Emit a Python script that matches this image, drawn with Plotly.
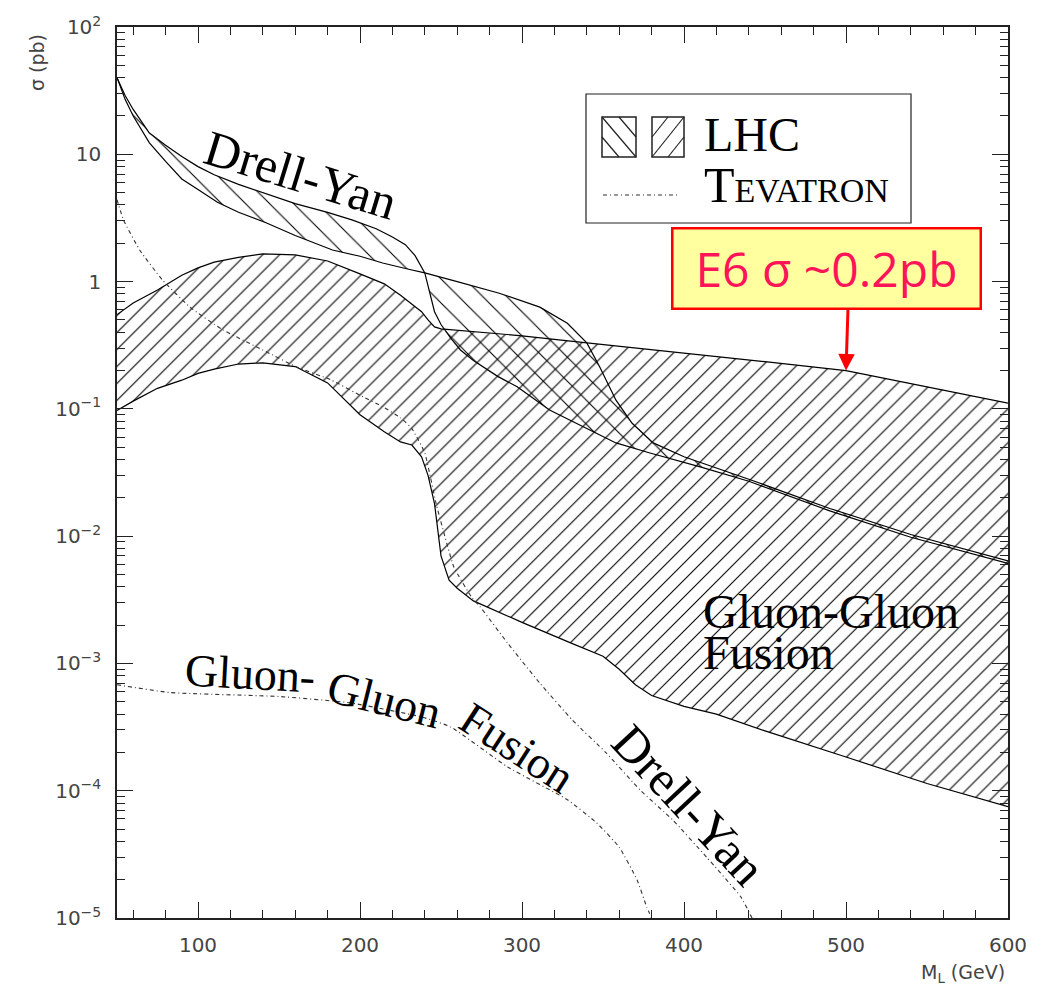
import numpy as np
import plotly.graph_objects as go

# ---------------- data ----------------
# LHC Drell-Yan band: edge A (upper edge below the ~240 GeV crossing) and edge B
dy_a_mass = [50, 55, 60, 70, 80, 90, 100, 110, 125, 140, 160, 180, 195, 210, 220, 228, 234, 240,
             243, 246, 250, 256, 262, 270, 285, 297, 317, 338, 358, 379, 410, 440, 490, 540, 600]
dy_a_sigma = [40, 29, 22.5, 14.7, 11.8, 9.6, 8.0, 6.9, 5.8, 5.0, 4.1, 3.5, 3.05, 2.6, 2.24, 1.95, 1.6, 1.17,
              0.80, 0.58, 0.46, 0.36, 0.29, 0.24, 0.18, 0.149, 0.098, 0.072, 0.054, 0.045, 0.035, 0.027,
              0.0158, 0.0098, 0.0061]
dy_b_mass = [50, 55, 60, 70, 80, 90, 100, 112, 125, 142, 160, 183, 200, 214, 230, 240,
             260, 286, 311, 328, 340, 348, 358, 368, 381, 400, 440, 490, 540, 600]
dy_b_sigma = [40, 27, 20, 12.3, 8.8, 6.4, 5.3, 4.2, 3.5, 2.9, 2.3, 1.77, 1.58, 1.40, 1.25, 1.17,
              1.0, 0.81, 0.63, 0.47, 0.33, 0.213, 0.117, 0.077, 0.054, 0.042, 0.028, 0.0165, 0.0103, 0.0064]

# LHC gluon-gluon fusion band (upper / lower edge on a common mass grid)
gg_mass = [50, 60, 75, 90, 100, 110, 125, 140, 160, 180, 200, 215, 225, 232, 238, 242, 246, 250, 255,
           260, 270, 300, 330, 350, 360, 370, 380, 400, 420, 450, 500, 550, 600]
gg_upper = [0.55, 0.68, 0.86, 1.12, 1.28, 1.42, 1.55, 1.65, 1.62, 1.45, 1.15, 0.96, 0.78, 0.66, 0.58,
            0.50, 0.44, 0.425, 0.42, 0.41, 0.40, 0.375, 0.34, 0.32, 0.31, 0.30, 0.29, 0.272, 0.258,
            0.235, 0.20, 0.15, 0.111]
gg_lower = [0.097, 0.115, 0.145, 0.168, 0.19, 0.205, 0.225, 0.23, 0.215, 0.16, 0.09, 0.066, 0.055,
            0.052, 0.042, 0.030, 0.018, 0.0070, 0.0045, 0.0039, 0.0031, 0.0021, 0.00145, 0.00114,
            0.00090, 0.00068, 0.00056, 0.00046, 0.00040, 0.000295, 0.000184, 0.000114, 0.000075]

# Tevatron curves
tev_dy_mass = [50, 54, 64, 78, 95, 115, 140, 161, 182, 202, 214, 225, 232, 240, 247, 258, 269, 274,
               291, 311, 331, 352, 373, 393, 414, 435, 442]
tev_dy_sigma = [4.4, 3.05, 1.77, 1.03, 0.63, 0.42, 0.29, 0.213, 0.169, 0.124, 0.104, 0.085, 0.070,
                0.045, 0.018, 0.0057, 0.0033, 0.0028, 0.00145, 0.0007, 0.00036, 0.000198, 0.000101,
                0.000059, 0.00003, 0.0000147, 0.00001]
tev_gg_mass = [50, 83, 150, 194, 238, 256, 291, 328, 346, 360, 371, 377, 380]
tev_gg_sigma = [6.8e-4, 5.9e-4, 5.5e-4, 4.9e-4, 3.8e-4, 3.17e-4, 1.54e-4, 8.5e-5, 5.6e-5, 3.6e-5,
                2.0e-5, 1.22e-5, 1.0e-5]

# hatch settings
dy_split_mass = 240
dy_pattern_size = 17
gg_pattern_size = 12

# E6 callout
e6_mass = 500
e6_sigma = 0.2
e6_text = "E6 σ ~0.2pb"

# axis ticks
x_tick_vals = [100, 200, 300, 400, 500, 600]
y_tick_vals = [1e-5, 1e-4, 1e-3, 1e-2, 1e-1, 1, 10, 100]
y_tick_text = ["10<sup>−5</sup>", "10<sup>−4</sup>", "10<sup>−3</sup>", "10<sup>−2</sup>",
               "10<sup>−1</sup>", "1", "10", "10<sup>2</sup>"]
y_minor_vals = [k * 10.0 ** d for d in range(-5, 2) for k in range(2, 10)]

# ---------------- layout geometry (page has an 8px body margin) ----------------
OFF = 8
W, H = 1028, 977
PLOT_L, PLOT_T, PLOT_W, PLOT_H = 117, 27, 891, 891      # screen pixels of the plot area
ML = PLOT_L - OFF
MT = PLOT_T - OFF
MR = W - ML - PLOT_W
MB = H - MT - PLOT_H


def px(x):
    return (x - PLOT_L) / PLOT_W


def py(y):
    return (PLOT_T + PLOT_H - y) / PLOT_H


fig = go.Figure()


def hatch(xs, ys, shape, size):
    fig.add_trace(go.Scatter(
        x=list(xs), y=list(ys), mode="none", fill="toself", fillcolor="rgba(0,0,0,0)",
        fillpattern=dict(shape=shape, size=size, solidity=min(1.0, 1.1 / size), fgcolor="black",
                         bgcolor="rgba(0,0,0,0)", fillmode="replace"),
        hoverinfo="skip", showlegend=False))


# Drell-Yan band (two lobes around the crossing)
a_m = np.array(dy_a_mass); a_s = np.array(dy_a_sigma)
b_m = np.array(dy_b_mass); b_s = np.array(dy_b_sigma)
for ma, mb in [(a_m <= dy_split_mass, b_m <= dy_split_mass),
               (a_m >= dy_split_mass, b_m >= dy_split_mass)]:
    xs = list(a_m[ma]) + list(b_m[mb][::-1])
    ys = list(a_s[ma]) + list(b_s[mb][::-1])
    hatch(xs, ys, "\\", dy_pattern_size)

# Gluon-gluon band
hatch(list(gg_mass) + list(gg_mass[::-1]), list(gg_upper) + list(gg_lower[::-1]), "/", gg_pattern_size)

edge = dict(color="black", width=1.2)
for xs, ys in [(dy_a_mass, dy_a_sigma), (dy_b_mass, dy_b_sigma),
               (gg_mass, gg_upper), (gg_mass, gg_lower)]:
    fig.add_trace(go.Scatter(x=xs, y=ys, mode="lines", line=edge, hoverinfo="skip", showlegend=False))

tev_line = dict(color="#333333", width=1.1, dash="4px,3px,1px,3px", shape="spline", smoothing=0.4)
fig.add_trace(go.Scatter(x=tev_dy_mass, y=tev_dy_sigma, mode="lines", line=tev_line,
                         hoverinfo="skip", showlegend=False))
fig.add_trace(go.Scatter(x=tev_gg_mass, y=tev_gg_sigma, mode="lines", line=tev_line,
                         hoverinfo="skip", showlegend=False))

# ---------------- axes ----------------
tickfont = dict(family="DejaVu Sans", size=20, color="#444444")
axis_common = dict(showline=True, linecolor="#222222", linewidth=1.5, mirror="ticks",
                   ticks="inside", ticklen=16, tickwidth=1, tickcolor="#222222",
                   showgrid=False, zeroline=False, tickfont=tickfont)
fig.update_xaxes(range=[50, 600], tickmode="array", tickvals=x_tick_vals, ticklabelstandoff=8,
                 minor=dict(ticks="inside", ticklen=8, tickwidth=1, tickcolor="#222222",
                            dtick=20, tick0=0, showgrid=False),
                 **axis_common)
fig.update_yaxes(type="log", range=[-5, 2], tickmode="array", tickvals=y_tick_vals,
                 ticktext=y_tick_text, ticklabelstandoff=10,
                 minor=dict(ticks="inside", ticklen=8, tickwidth=1, tickcolor="#222222",
                            tickmode="array", tickvals=y_minor_vals, showgrid=False),
                 **axis_common)

# ---------------- annotations ----------------
serif = "Liberation Serif"
ann = []


def label(x, y, text, size=46, angle=0, xanchor="center", family=serif, color="black"):
    ann.append(dict(x=px(x), y=py(y), xref="paper", yref="paper", text=text, showarrow=False,
                    textangle=angle, xanchor=xanchor, yanchor="middle",
                    font=dict(family=family, size=size, color=color)))


label(301, 175, "Drell-Yan", 50, 17)
label(689, 805, "Drell-Yan", 50, 47)
label(250, 673, "Gluon-", 46, 3)
label(384, 699, "Gluon", 46, 14)
label(517, 747, "Fusion", 46, 33)
label(701, 611, "Gluon-Gluon", 48, 0, "left")
label(701, 652, "Fusion", 48, 0, "left")
# legend texts
label(702, 134, "LHC", 48, 0, "left")
label(702, 185, "T<span style='font-size:34px'>EVATRON</span>", 50, 0, "left")
# axis titles
label(37, 63, "σ (pb)", 19, -90, "center", "DejaVu Sans", "#444444")
label(1007, 973, "M<sub>L</sub> (GeV)", 19, 0, "right", "DejaVu Sans", "#444444")

# E6 callout box and arrow
ann.append(dict(x=px(826), y=py(268), xref="paper", yref="paper", text=e6_text, showarrow=False,
                font=dict(family="Open Sans", size=48, color="#FF1459"),
                bgcolor="#FFFFA0", bordercolor="#FF0000", borderwidth=2.5, borderpad=4,
                width=298, height=70, xanchor="center", yanchor="middle"))
ann.append(dict(x=e6_mass, y=np.log10(e6_sigma), xref="x", yref="y", text="", showarrow=True,
                ax=2, ay=-62, arrowhead=2, arrowsize=1.1, arrowwidth=3, arrowcolor="#FF0000",
                standoff=0))

# ---------------- legend drawn as shapes ----------------
shapes = []


def rect(x0, y0, x1, y1, w=1.2, color="#222222"):
    shapes.append(dict(type="rect", xref="paper", yref="paper", x0=px(x0), x1=px(x1),
                       y0=py(y1), y1=py(y0), line=dict(color=color, width=w),
                       fillcolor="rgba(0,0,0,0)"))


def seg(x0, y0, x1, y1, w=1.2, dash="solid", color="#222222"):
    shapes.append(dict(type="line", xref="paper", yref="paper", x0=px(x0), x1=px(x1),
                       y0=py(y0), y1=py(y1), line=dict(color=color, width=w, dash=dash)))


rect(586, 94, 911, 223, 1.2)
# swatch 1 "\"
rect(602, 117, 636, 157, 1.5)
seg(602, 117, 636, 157)
seg(619, 117, 636, 137)
seg(602, 137, 619, 157)
# swatch 2 "/"
rect(652, 117, 684, 157, 1.5)
seg(652, 157, 684, 117)
seg(652, 137, 668, 117)
seg(668, 157, 684, 137)
# Tevatron sample line
seg(603, 195, 677, 195, 1.1, "4px,3px,1px,3px", "#333333")

fig.update_layout(
    width=W, height=H,
    margin=dict(l=ML, r=MR, t=MT, b=MB, pad=0, autoexpand=False),
    plot_bgcolor="white", paper_bgcolor="white",
    showlegend=False,
    annotations=ann, shapes=shapes,
)

fig.write_html("out.html")
